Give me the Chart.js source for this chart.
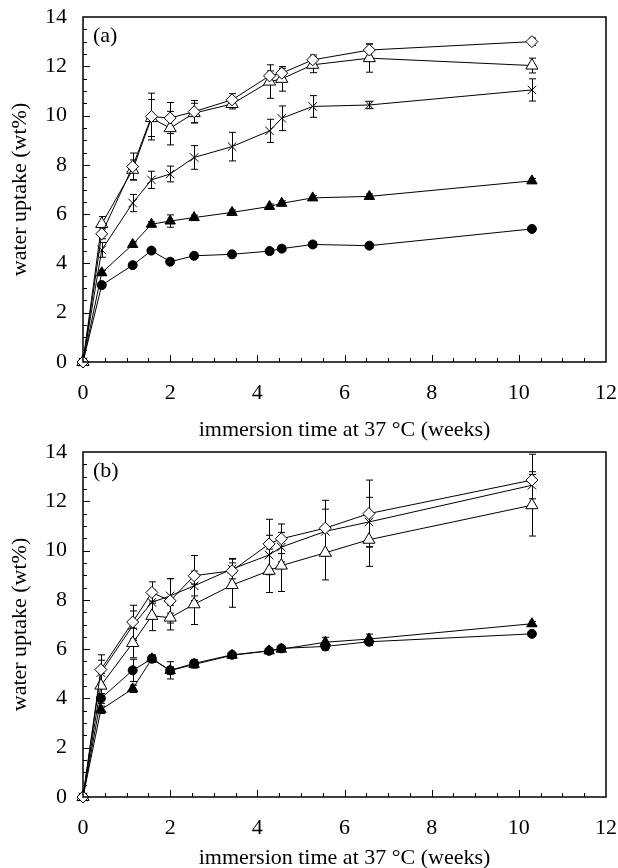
<!DOCTYPE html>
<html>
<head>
<meta charset="utf-8">
<script src="https://cdn.jsdelivr.net/npm/chart.js@4/dist/chart.umd.min.js"></script>
<style>
  html, body { margin: 0; padding: 0; background: #fff; overflow: hidden; }
  .panel { position: absolute; left: 0; width: 618px; height: 446px; }
  #panelA { top: 0; }
  #panelB { top: 435px; }
</style>
</head>
<body>
<div class="panel" id="panelA"><canvas id="chartA"></canvas></div>
<div class="panel" id="panelB"><canvas id="chartB"></canvas></div>
<script>
// tick labels
const xTicks = [0, 2, 4, 6, 8, 10, 12];
const yTicks = [0, 2, 4, 6, 8, 10, 12, 14];

// panel (a) - immersion weeks and water uptake (wt%)
const weeksA = [0, 0.43, 1.14, 1.57, 2.0, 2.55, 3.42, 4.28, 4.56, 5.27, 6.57, 10.3];
const circleA = [0, 3.12, 3.93, 4.52, 4.07, 4.31, 4.37, 4.5, 4.6, 4.77, 4.72, 5.4];
const filledTriA = [0, 3.62, 4.77, 5.59, 5.72, 5.86, 6.07, 6.31, 6.44, 6.66, 6.72, 7.35];
const crossA = [0, 4.55, 6.45, 7.39, 7.63, 8.3, 8.74, 9.38, 9.89, 10.37, 10.43, 11.04];
const diamondA = [0, 5.2, 7.93, 9.96, 9.9, 10.16, 10.64, 11.61, 11.72, 12.26, 12.66, 13.0];
const openTriA = [0, 5.6, 7.8, 9.9, 9.49, 10.1, 10.47, 11.38, 11.49, 12.06, 12.33, 12.03];
// error bars (a)
const circleErrA = [0, 0.1, 0.1, 0.1, 0.1, 0.1, 0.1, 0.1, 0.1, 0.1, 0.1, 0.1];
const filledTriErrA = [0, 0.1, 0.1, 0.1, 0.25, 0.1, 0.1, 0.1, 0.1, 0.1, 0.1, 0.1];
const crossErrA = [0, 0.3, 0.35, 0.35, 0.32, 0.48, 0.58, 0.47, 0.5, 0.44, 0.15, 0.45];
const diamondErrA = [0, 0.2, 0.55, 0.95, 0.63, 0.45, 0.25, 0.2, 0.2, 0.2, 0.25, 0.15];
const openTriErrA = [0, 0.3, 0.4, 0.75, 0.68, 0.4, 0.2, 0.68, 0.5, 0.32, 0.57, 0.3];

// panel (b)
const weeksB = [0, 0.41, 1.14, 1.58, 2.0, 2.55, 3.42, 4.27, 4.55, 5.56, 6.56, 10.3];
const circleB = [0, 4.0, 5.14, 5.61, 5.14, 5.42, 5.77, 5.93, 6.03, 6.11, 6.3, 6.62];
const filledTriB = [0, 3.54, 4.39, 5.61, 5.13, 5.38, 5.75, 5.93, 6.0, 6.28, 6.41, 7.03];
const crossB = [0, 5.05, 6.95, 7.9, 8.16, 8.57, 9.25, 9.82, 10.14, 10.78, 11.16, 12.65];
const diamondB = [0, 5.17, 7.1, 8.3, 7.96, 8.98, 9.18, 10.27, 10.48, 10.91, 11.5, 12.86];
const openTriB = [0, 4.52, 6.25, 7.35, 7.28, 7.82, 8.6, 9.18, 9.39, 9.91, 10.44, 11.84];
// error bars (b)
const circleErrB = [0, 0.2, 0.45, 0.15, 0.35, 0.15, 0.1, 0.1, 0.1, 0.15, 0.15, 0.1];
const filledTriErrB = [0, 0.15, 0.15, 0.15, 0.15, 0.15, 0.1, 0.1, 0.1, 0.2, 0.2, 0.1];
const crossErrB = [0, 0.5, 0.6, 0.5, 0.7, 0.6, 0.4, 0.8, 0.6, 0.9, 1.0, 0.55];
const diamondErrB = [0, 0.6, 0.68, 0.43, 0.9, 0.82, 0.5, 1.0, 0.6, 1.13, 1.36, 1.05];
const openTriErrB = [0, 0.5, 0.6, 0.6, 0.5, 0.82, 0.9, 0.88, 1.05, 1.1, 1.08, 1.25];

const FONT = "'Liberation Serif', 'Times New Roman', serif";
Chart.defaults.font.family = FONT;
Chart.defaults.color = '#000';

function pts(xs, ys, errs) {
  return xs.map((x, i) => ({ x: x, y: ys[i], err: errs[i] }));
}

function makeSet(data, style, radius, fill) {
  return {
    data: data,
    showLine: true,
    clip: false,
    borderColor: '#000',
    borderWidth: 1,
    pointStyle: style,
    pointRadius: radius,
    pointHoverRadius: radius,
    pointBackgroundColor: fill,
    pointBorderColor: '#000',
    pointBorderWidth: 1,
    tension: 0,
    fill: false
  };
}

// error bars, ticks inside the frame, box and panel label
const decor = {
  id: 'decor',
  beforeDatasetsDraw(chart) {
    const { ctx, scales: { x, y } } = chart;
    ctx.save();
    ctx.strokeStyle = '#000';
    ctx.lineWidth = 1;
    chart.data.datasets.forEach(ds => {
      ds.data.forEach(p => {
        if (!p.err) return;
        const px = Math.round(x.getPixelForValue(p.x)) + 0.5;
        const top = y.getPixelForValue(p.y + p.err);
        const bot = y.getPixelForValue(p.y - p.err);
        ctx.beginPath();
        ctx.moveTo(px, top); ctx.lineTo(px, bot);
        ctx.moveTo(px - 3.5, top); ctx.lineTo(px + 3.5, top);
        ctx.moveTo(px - 3.5, bot); ctx.lineTo(px + 3.5, bot);
        ctx.stroke();
      });
    });
    ctx.restore();
  },
  afterDraw(chart, args, opts) {
    const { ctx, chartArea: a, scales: { x, y } } = chart;
    ctx.save();
    ctx.strokeStyle = '#000';
    ctx.lineWidth = 1;
    ctx.beginPath();
    for (let v = 0.5; v < 12; v += 0.5) {
      const px = Math.round(x.getPixelForValue(v)) + 0.5;
      const len = v % 2 === 0 ? 7 : 4;
      ctx.moveTo(px, a.bottom); ctx.lineTo(px, a.bottom - len);
    }
    for (let v = 0.5; v < 14; v += 0.5) {
      const py = Math.round(y.getPixelForValue(v)) + 0.5;
      const len = v % 2 === 0 ? 7 : 4;
      ctx.moveTo(a.left, py); ctx.lineTo(a.left + len, py);
    }
    ctx.stroke();
    ctx.lineWidth = 1.5;
    ctx.strokeRect(a.left, a.top, a.right - a.left, a.bottom - a.top);
    ctx.fillStyle = '#000';
    ctx.font = '22px ' + FONT;
    ctx.textBaseline = 'middle';
    ctx.fillText(opts.label, a.left + 10, a.top + 19);
    ctx.restore();
  }
};

function buildChart(id, label, weeks, sets, titlePad) {
  return new Chart(document.getElementById(id), {
    type: 'scatter',
    data: {
      datasets: [
        makeSet(pts(weeks, sets.diamond, sets.diamondErr), 'rectRot', 6, '#fff'),
        makeSet(pts(weeks, sets.openTri, sets.openTriErr), 'triangle', 7, '#fff'),
        makeSet(pts(weeks, sets.cross, sets.crossErr), 'crossRot', 6, '#000'),
        makeSet(pts(weeks, sets.filledTri, sets.filledTriErr), 'triangle', 6, '#000'),
        makeSet(pts(weeks, sets.circle, sets.circleErr), 'circle', 4.5, '#000')
      ]
    },
    options: {
      responsive: true,
      maintainAspectRatio: false,
      animation: false,
      layout: { padding: { left: 0, right: 12, top: 17, bottom: 0 } },
      plugins: {
        legend: { display: false },
        tooltip: { enabled: false },
        decor: { label: label }
      },
      scales: {
        x: {
          type: 'linear',
          min: 0, max: 12,
          afterBuildTicks: s => { s.ticks = xTicks.map(v => ({ value: v })); },
          afterFit: s => { s.height = 84; s.paddingLeft = 0; s.paddingRight = 0; },
          grid: { display: false, drawTicks: false },
          border: { display: false },
          ticks: { font: { size: 22 }, padding: 18, autoSkip: false, maxRotation: 0 },
          title: {
            display: true,
            text: 'immersion time at 37 °C (weeks)',
            font: { size: 22 },
            padding: { top: 0, bottom: titlePad }
          }
        },
        y: {
          min: 0, max: 14,
          afterBuildTicks: s => { s.ticks = yTicks.map(v => ({ value: v })); },
          afterFit: s => { s.width = 83; s.paddingTop = 0; s.paddingBottom = 0; },
          grid: { display: false, drawTicks: false },
          border: { display: false },
          ticks: { font: { size: 22 }, padding: 16, autoSkip: false },
          title: {
            display: true,
            text: 'water uptake (wt%)',
            font: { size: 22 },
            padding: { top: 7, bottom: 0 }
          }
        }
      }
    },
    plugins: [decor]
  });
}

buildChart('chartA', '(a)', weeksA, {
  circle: circleA, circleErr: circleErrA,
  filledTri: filledTriA, filledTriErr: filledTriErrA,
  cross: crossA, crossErr: crossErrA,
  diamond: diamondA, diamondErr: diamondErrA,
  openTri: openTriA, openTriErr: openTriErrA
}, 3);
buildChart('chartB', '(b)', weeksB, {
  circle: circleB, circleErr: circleErrB,
  filledTri: filledTriB, filledTriErr: filledTriErrB,
  cross: crossB, crossErr: crossErrB,
  diamond: diamondB, diamondErr: diamondErrB,
  openTri: openTriB, openTriErr: openTriErrB
}, 10);
</script>
</body>
</html>
